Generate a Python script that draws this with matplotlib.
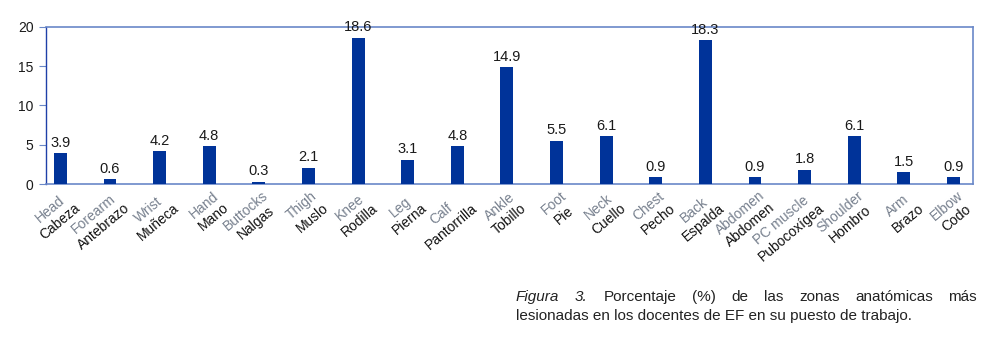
import matplotlib
matplotlib.use("Agg")
import matplotlib.pyplot as plt
from matplotlib.font_manager import FontProperties
import numpy as np

plt.rcParams['font.family'] = ['Liberation Sans', 'DejaVu Sans']

english = ['Head', 'Forearm', 'Wrist', 'Hand', 'Buttocks', 'Thigh', 'Knee', 'Leg',
           'Calf', 'Ankle', 'Foot', 'Neck', 'Chest', 'Back', 'Abdomen', 'PC muscle',
           'Shoulder', 'Arm', 'Elbow']
spanish = ['Cabeza', 'Antebrazo', 'Muñeca', 'Mano', 'Nalgas', 'Muslo', 'Rodilla', 'Pierna',
           'Pantorrilla', 'Tobillo', 'Pie', 'Cuello', 'Pecho', 'Espalda', 'Abdomen',
           'Pubocoxígea', 'Hombro', 'Brazo', 'Codo']
pct = [3.9, 0.6, 4.2, 4.8, 0.3, 2.1, 18.6, 3.1, 4.8, 14.9, 5.5, 6.1, 0.9, 18.3, 0.9,
       1.8, 6.1, 1.5, 0.9]

bar_col = '#003399'
line_col = '#6a88c8'
grey = '#77808e'

fig = plt.figure(figsize=(10.04, 3.54), dpi=100)
ax = fig.add_axes([0.0458, 0.480, 0.9232, 0.444])

x = np.arange(len(pct))
ax.bar(x, pct, width=0.26, color=bar_col, zorder=3)
for xi, v in zip(x, pct):
    ax.annotate(f'{v}', (xi, v), xytext=(0, 2.5), textcoords='offset points',
                ha='center', va='bottom', fontsize=10.5, color='#1a1a1a', clip_on=False)

ax.set_xlim(-0.29, len(pct) - 1 + 0.39)
ax.set_ylim(0, 20)
ax.set_yticks([0, 5, 10, 15, 20])
ax.tick_params(axis='y', labelsize=10, length=5, color=line_col, pad=4, labelcolor='#1a1a1a')
ax.set_xticks([])
for side in ['top', 'right', 'bottom']:
    ax.spines[side].set_color(line_col)
    ax.spines[side].set_linewidth(1.2)
ax.spines['left'].set_color('#1f40a8')
ax.spines['left'].set_linewidth(1.0)

fig.canvas.draw()
renderer = fig.canvas.get_renderer()

# two-line rotated category labels: lines centred on each other,
# block anchored at its top-right corner near the tick
rot = 40
c, s = np.cos(np.radians(rot)), np.sin(np.radians(rot))
fp = FontProperties(family=['Liberation Sans'], size=10)
corner = np.array([3.8, -5.3])   # pixels from tick
cap, spacing = 10.0, 15.8
for xi, en, es in zip(x, english, spanish):
    w_en = renderer.get_text_width_height_descent(en, fp, ismath=False)[0]
    w_es = renderer.get_text_width_height_descent(es, fp, ismath=False)[0]
    half = max(w_en, w_es) / 2
    b1 = corner - half * np.array([c, s]) + cap * np.array([s, -c])
    b2 = b1 + spacing * np.array([s, -c])
    for txt, off, col in [(en, b1, grey), (es, b2, '#111111')]:
        ax.annotate(txt, (xi, 0), xycoords=('data', 'axes fraction'), xytext=tuple(off),
                    textcoords='offset pixels', rotation=rot, rotation_mode='anchor',
                    ha='center', va='baseline', fontsize=10, color=col)

# caption, first line justified
line1 = [('Figura', 'italic'), ('3.', 'italic'), ('Porcentaje', 'normal'), ('(%)', 'normal'),
         ('de', 'normal'), ('las', 'normal'), ('zonas', 'normal'), ('anatómicas', 'normal'),
         ('más', 'normal')]
x0, x1 = 516 / 1004, 977 / 1004
y1, y2 = 1 - 301 / 354, 1 - 320 / 354
words = []
total = 0
for w, st in line1:
    t = fig.text(0, y1, w, fontsize=11, style=st, color='#222222', va='baseline')
    bb = t.get_window_extent(renderer)
    words.append((t, bb.width / fig.bbox.width))
    total += bb.width / fig.bbox.width
gap = (x1 - x0 - total) / (len(words) - 1)
pos = x0
for t, wd in words:
    t.set_x(pos)
    pos += wd + gap
fig.text(x0, y2, 'lesionadas en los docentes de EF en su puesto de trabajo.',
         fontsize=11, color='#222222', va='baseline')

fig.savefig('out.png', dpi=100)
